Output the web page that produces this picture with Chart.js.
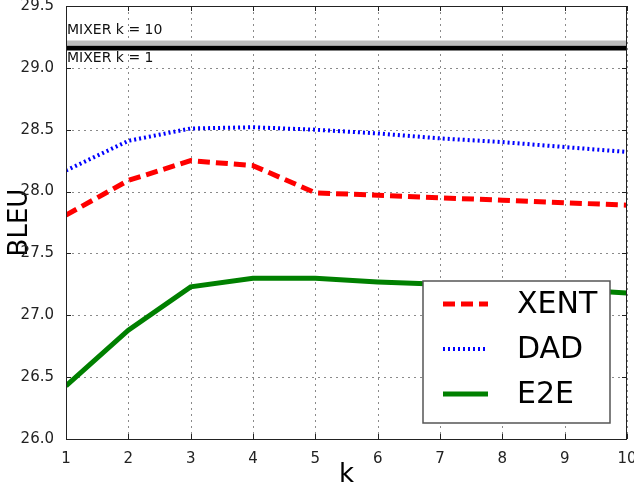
<!DOCTYPE html>
<html>
<head>
<meta charset="utf-8">
<script src="https://cdn.jsdelivr.net/npm/chart.js@4"></script>
<style>
  html, body { margin: 0; padding: 0; background: #fff; }
  #wrap { width: 634px; height: 488px; }
</style>
</head>
<body>
<div id="wrap"><canvas id="bleu"></canvas></div>
<script>
const kValues = [1, 2, 3, 4, 5, 6, 7, 8, 9, 10];
const xentData = [27.81, 28.09, 28.25, 28.21, 27.99, 27.97, 27.95, 27.93, 27.91, 27.89];
const dadData = [28.17, 28.41, 28.51, 28.52, 28.5, 28.47, 28.43, 28.4, 28.36, 28.32];
const e2eData = [26.43, 26.88, 27.23, 27.3, 27.3, 27.27, 27.25, 27.23, 27.21, 27.18];
const mixerK = [1, 10];
const mixer10 = [29.2, 29.2];
const mixer1 = [29.16, 29.16];
const yTicks = [26.0, 26.5, 27.0, 27.5, 28.0, 28.5, 29.0, 29.5];

const toPoints = (xs, ys) => xs.map((x, i) => ({ x, y: ys[i] }));
Chart.defaults.font.family = "'DejaVu Sans', sans-serif";
Chart.defaults.color = "#222";

// dotted grid behind the lines
const dottedGrid = {
  id: "dottedGrid",
  beforeDatasetsDraw(chart) {
    const { ctx, chartArea: a, scales } = chart;
    ctx.save();
    ctx.strokeStyle = "#8a8a8a";
    ctx.lineWidth = 1;
    ctx.setLineDash([2, 4]);
    ctx.beginPath();
    kValues.forEach(k => {
      const px = Math.round(scales.x.getPixelForValue(k)) + 0.5;
      ctx.moveTo(px, a.top); ctx.lineTo(px, a.bottom);
    });
    yTicks.forEach(v => {
      const py = Math.round(scales.y.getPixelForValue(v)) + 0.5;
      ctx.moveTo(a.left, py); ctx.lineTo(a.right, py);
    });
    ctx.stroke();
    ctx.restore();
  }
};

// matplotlib-style frame, inner ticks, mixer labels and an in-plot legend
const decorations = {
  id: "decorations",
  afterDatasetsDraw(chart) {
    const { ctx, chartArea: a, scales } = chart;
    ctx.save();
    ctx.strokeStyle = "#222";
    ctx.lineWidth = 1;
    ctx.beginPath();
    kValues.forEach(k => {
      const px = Math.round(scales.x.getPixelForValue(k)) + 0.5;
      ctx.moveTo(px, a.bottom); ctx.lineTo(px, a.bottom - 5);
      ctx.moveTo(px, a.top); ctx.lineTo(px, a.top + 5);
    });
    yTicks.forEach(v => {
      const py = Math.round(scales.y.getPixelForValue(v)) + 0.5;
      ctx.moveTo(a.left, py); ctx.lineTo(a.left + 5, py);
      ctx.moveTo(a.right, py); ctx.lineTo(a.right - 5, py);
    });
    ctx.stroke();
    ctx.strokeRect(Math.round(a.left) + 0.5, Math.round(a.top) + 0.5, Math.round(a.right - a.left) - 1, Math.round(a.bottom - a.top));

    ctx.fillStyle = "#111";
    ctx.font = "14px 'DejaVu Sans'";
    ctx.textBaseline = "middle";
    ctx.textAlign = "left";
    ctx.fillText("MIXER k = 10", a.left + 1, scales.y.getPixelForValue(mixer10[0]) - 13);
    ctx.fillText("MIXER k = 1", a.left + 1, scales.y.getPixelForValue(mixer1[0]) + 10);

    // legend box
    const bx = 423, by = 281, bw = 187, bh = 142;
    ctx.fillStyle = "#fff";
    ctx.fillRect(bx, by, bw, bh);
    ctx.strokeStyle = "#555";
    ctx.lineWidth = 1.5;
    ctx.strokeRect(bx, by, bw, bh);
    const items = chart.data.datasets.filter(d => d.inLegend);
    items.forEach((d, i) => {
      const cy = 304 + i * 45;
      ctx.beginPath();
      ctx.strokeStyle = d.borderColor;
      ctx.lineWidth = d.borderWidth;
      ctx.setLineDash(d.borderDash || []);
      ctx.moveTo(443, cy); ctx.lineTo(488, cy);
      ctx.stroke();
      ctx.setLineDash([]);
      ctx.fillStyle = "#000";
      ctx.font = "30px 'DejaVu Sans'";
      ctx.fillText(d.label, 517, cy + 1);
    });
    ctx.restore();
  }
};

new Chart(document.getElementById("bleu"), {
  type: "line",
  data: {
    datasets: [
      { label: "MIXER k = 10", data: toPoints(mixerK, mixer10), borderColor: "#bdbdbd", borderWidth: 5, pointRadius: 0 },
      { label: "MIXER k = 1", data: toPoints(mixerK, mixer1), borderColor: "#000", borderWidth: 5, pointRadius: 0 },
      { label: "XENT", inLegend: true, data: toPoints(kValues, xentData), borderColor: "#ff0000", borderWidth: 5, borderDash: [12, 6], pointRadius: 0 },
      { label: "DAD", inLegend: true, data: toPoints(kValues, dadData), borderColor: "#0000ff", borderWidth: 4, borderDash: [2, 3], pointRadius: 0 },
      { label: "E2E", inLegend: true, data: toPoints(kValues, e2eData), borderColor: "#008000", borderWidth: 5, pointRadius: 0 },
    ],
  },
  options: {
    responsive: true,
    maintainAspectRatio: false,
    animation: false,
    layout: { padding: { top: 6, right: 7, left: 0, bottom: 0 } },
    plugins: { legend: { display: false }, tooltip: { enabled: false } },
    scales: {
      x: {
        type: "linear",
        min: 1,
        max: 10,
        afterFit: s => { s.height = 49; s.paddingLeft = 0; s.paddingRight = 0; },
        afterBuildTicks: s => { s.ticks = kValues.map(v => ({ value: v })); },
        grid: { display: false },
        border: { display: false },
        ticks: { font: { size: 15 }, padding: 3, color: "#222" },
        title: { display: true, text: "k", font: { size: 26 }, padding: { top: 2, bottom: -3 }, color: "#000" },
      },
      y: {
        min: 26,
        max: 29.5,
        afterFit: s => { s.width = 66; s.paddingTop = 0; s.paddingBottom = 0; },
        afterBuildTicks: s => { s.ticks = yTicks.map(v => ({ value: v })); },
        grid: { display: false },
        border: { display: false },
        ticks: { font: { size: 15 }, padding: 4, color: "#222", callback: v => v.toFixed(1) },
        title: { display: true, text: "BLEU", font: { size: 26 }, padding: { top: 5, bottom: 4 }, color: "#000" },
      },
    },
  },
  plugins: [dottedGrid, decorations],
});
</script>
</body>
</html>
